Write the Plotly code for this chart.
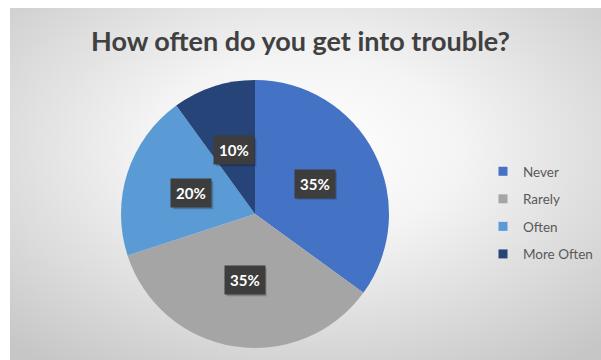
import base64
import math
import plotly.graph_objects as go

# Survey answers
categories = ["Never", "Rarely", "Often", "More Often"]
shares = [35, 35, 20, 10]
label_text = ["35%", "35%", "20%", "10%"]
title_text = "How often do you get into trouble?"

colors = ["#4472C4", "#A5A5A5", "#5B9BD5", "#264478"]

W, H = 601, 360
dom_x = [121 / W, 389 / W]
dom_y = [1 - 348 / H, 1 - 80 / H]

# Soft radial backdrop behind the chart area
svg = (
    '<svg xmlns="http://www.w3.org/2000/svg" width="600" height="360" preserveAspectRatio="none">'
    '<defs><radialGradient id="g" cx="50%" cy="40%" r="75%">'
    '<stop offset="0%" stop-color="#ffffff"/>'
    '<stop offset="35%" stop-color="#f4f4f4"/>'
    '<stop offset="100%" stop-color="#c6c6c6"/>'
    '</radialGradient></defs>'
    '<rect width="600" height="360" fill="url(#g)"/></svg>'
)
bg_src = "data:image/svg+xml;base64," + base64.b64encode(svg.encode()).decode()

fig = go.Figure(
    go.Pie(
        labels=categories,
        values=shares,
        sort=False,
        direction="clockwise",
        rotation=0,
        marker=dict(colors=colors, line=dict(width=0)),
        textinfo="none",
        hoverinfo="label+percent",
        domain=dict(x=dom_x, y=dom_y),
        showlegend=False,
    )
)

# Legend entries, one group per category so rows can be spaced apart
for name, col in zip(categories, colors):
    fig.add_trace(go.Scatter(
        x=[None], y=[None], mode="markers", name=name, legendgroup=name,
        marker=dict(symbol="square", size=9, color=col),
        hoverinfo="skip",
    ))

# Data labels: dark boxes placed halfway out along each slice's bisector
cx_px = (dom_x[0] + dom_x[1]) / 2 * W
cy_px = (1 - (dom_y[0] + dom_y[1]) / 2) * H
radius_px = min((dom_x[1] - dom_x[0]) * W, (dom_y[1] - dom_y[0]) * H) / 2
total = sum(shares)
cum = 0
annotations = []
shapes = []
box_w, box_h = 40, 28
for v, t in zip(shares, label_text):
    mid = (cum + v / 2) / total * 2 * math.pi
    cum += v
    px = cx_px + 0.5 * radius_px * math.sin(mid)
    py = cy_px - 0.5 * radius_px * math.cos(mid)
    # soft drop shadow under the label box
    shapes.append(dict(
        type="rect", xref="paper", yref="paper", layer="above",
        x0=(px - box_w / 2 + 2) / W, x1=(px + box_w / 2 + 2) / W,
        y0=1 - (py + box_h / 2 + 2) / H, y1=1 - (py - box_h / 2 + 2) / H,
        fillcolor="rgba(0,0,0,0.22)", line=dict(width=0),
    ))
    annotations.append(dict(
        x=px / W, y=1 - py / H, xref="paper", yref="paper",
        xanchor="center", yanchor="middle",
        text="<b>" + t + "</b>", showarrow=False, bgcolor="#3d3d3d",
        font=dict(family="Lato", size=15, color="#ffffff"),
        borderpad=5,
    ))

fig.update_layout(
    width=W,
    height=H,
    margin=dict(l=0, r=0, t=0, b=0),
    paper_bgcolor="#ffffff",
    plot_bgcolor="rgba(0,0,0,0)",
    xaxis=dict(visible=False),
    yaxis=dict(visible=False),
    images=[dict(
        source=bg_src, xref="paper", yref="paper",
        x=10 / W, y=1 - 8 / H, sizex=1 - 10 / W, sizey=1 - 8 / H,
        xanchor="left", yanchor="top", sizing="stretch", layer="below",
    )],
    title=dict(
        text="<b>" + title_text + "</b>",
        x=0.5, xanchor="center", y=1 - 42 / H, yanchor="middle",
        font=dict(family="Lato", size=27, color="#404040"),
    ),
    legend=dict(
        x=483 / W, y=1 - 156 / H, xanchor="left", yanchor="top",
        font=dict(family="Lato", size=13.5, color="#595959"),
        tracegroupgap=7, itemwidth=30,
        bgcolor="rgba(0,0,0,0)",
    ),
    shapes=shapes,
    annotations=annotations,
)

fig.write_html("out.html")
